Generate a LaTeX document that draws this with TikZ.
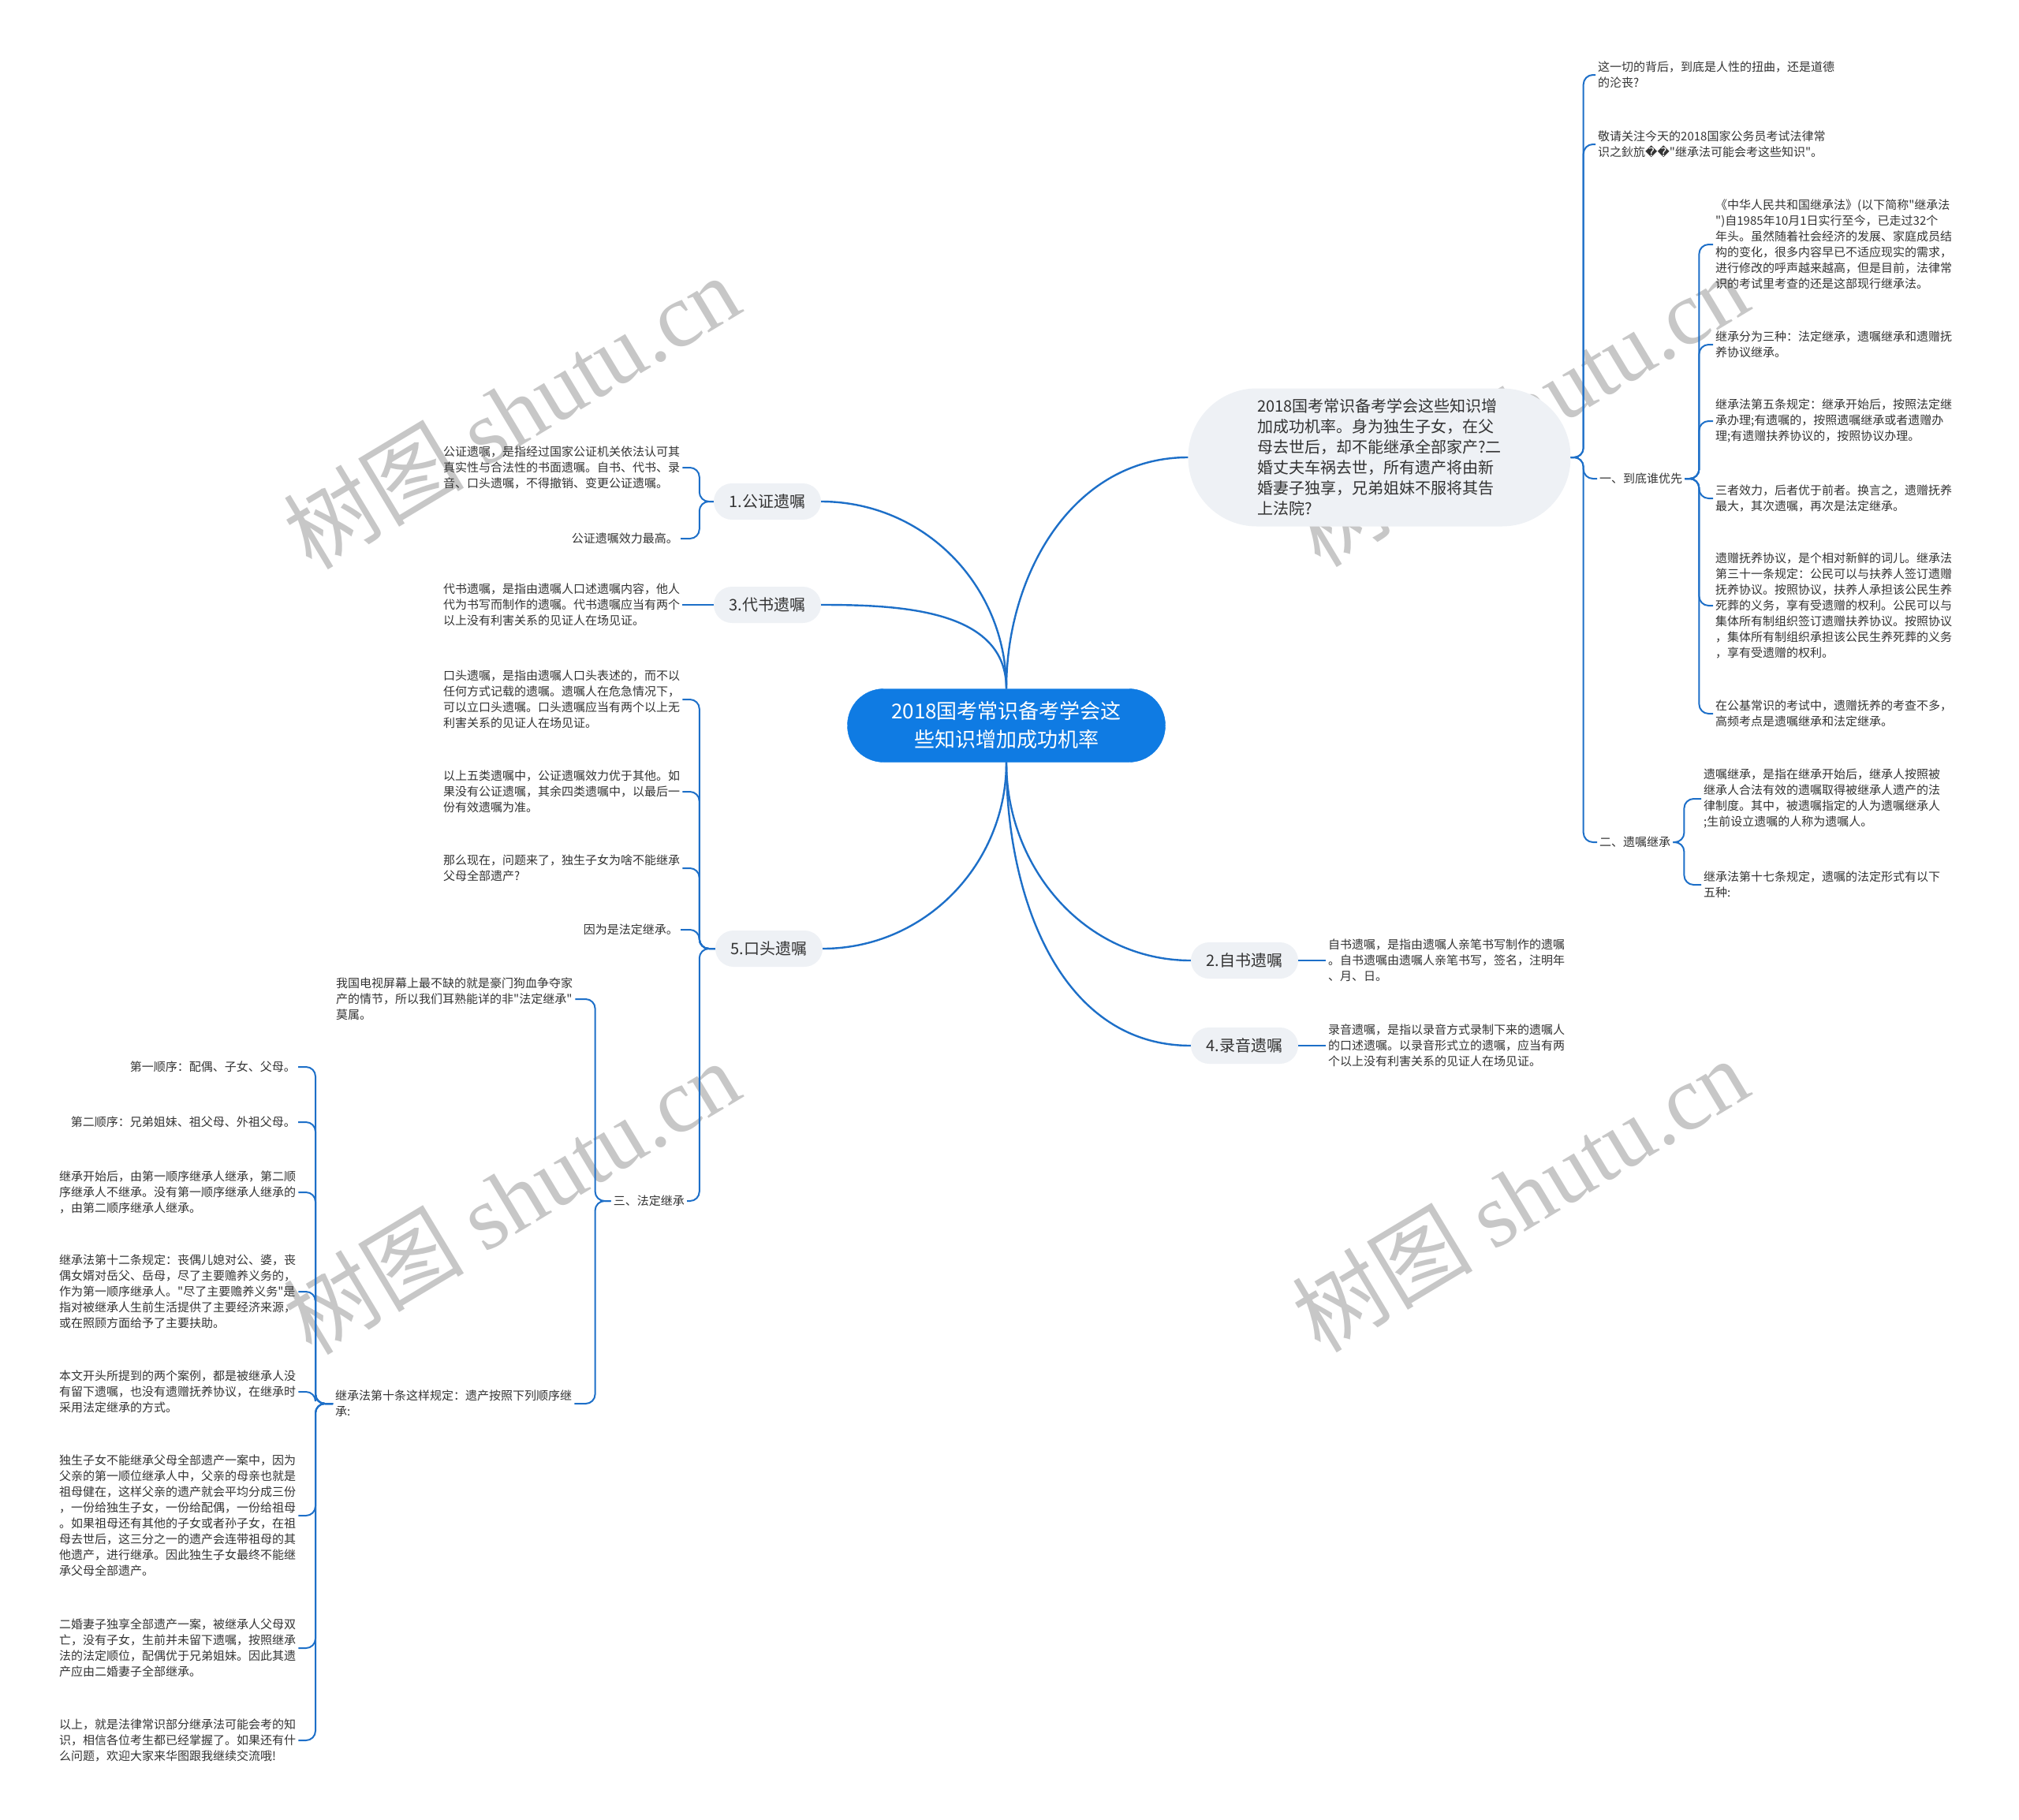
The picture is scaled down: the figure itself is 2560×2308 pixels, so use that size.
\documentclass[tikz,border=0pt]{standalone}
\usepackage{fontspec}
\setmainfont{Noto Sans CJK SC}[Ligatures=TeXOff]
\newfontfamily\markfont{Liberation Serif}
\newfontfamily\glyphfont{DejaVu Sans}
\usetikzlibrary{positioning}

\definecolor{linkblue}{HTML}{1D6FC8}
\definecolor{rootblue}{HTML}{0F7BE3}
\definecolor{bubble}{HTML}{EEF1F5}
\definecolor{ink}{HTML}{333333}

\begin{document}
\begin{tikzpicture}[
        x=1pt, y=1pt,
        root/.style={draw=rootblue, fill=rootblue, text=white, rounded corners=46pt, minimum width=403pt, minimum height=93pt, align=center, font=\fontsize{26}{36}\selectfont},
        topic/.style={fill=bubble, rounded corners=23pt, minimum width=136pt, minimum height=46pt, text=ink, font=\fontsize{20}{24}\selectfont},
        leaf/.style={text=ink, align=left, inner sep=3pt, font=\fontsize{15}{20}\selectfont},
        link/.style={draw=linkblue, line width=2.4pt},
        branch/.style={draw=linkblue, line width=2pt, rounded corners=12pt},
        watermark/.style={text=black!22, rotate=31, font=\fontsize{115}{115}\selectfont}
    ]
    \useasboundingbox (0,0) rectangle (2560,-2308);

    % watermarks
    \node[watermark] (MarkA) at (648,-522) {树图 {\markfont shutu.cn}};
    \node[watermark] (MarkB) at (1927,-519) {树图 {\markfont shutu.cn}};
    \node[watermark] (MarkC) at (648,-1518) {树图 {\markfont shutu.cn}};
    \node[watermark] (MarkD) at (1927,-1515) {树图 {\markfont shutu.cn}};

    \node[root] (Root) at (1276,-920) {2018国考常识备考学会这\\些知识增加成功机率};

    \node[topic, minimum width=485pt, minimum height=175pt, rounded corners=87pt, align=left, font=\fontsize{20}{26}\selectfont] (Story) at (1749,-580)
        {2018国考常识备考学会这些知识增\\加成功机率。身为独生子女，在父\\母去世后，却不能继承全部家产?二\\婚丈夫车祸去世，所有遗产将由新\\婚妻子独享，兄弟姐妹不服将其告\\上法院?};
    \node[topic] (Notary) at (973,-636) {1.公证遗嘱};
    \node[topic] (Proxy) at (973,-767) {3.代书遗嘱};
    \node[topic] (Oral) at (975,-1203) {5.口头遗嘱};
    \node[topic] (Holo) at (1578,-1218) {2.自书遗嘱};
    \node[topic] (Audio) at (1578,-1326) {4.录音遗嘱};

    % right side, story branch
    \node[leaf, anchor=west] (Doubt) at (2023,-95) {这一切的背后，到底是人性的扭曲，还是道德\\的沦丧?};
    \node[leaf, anchor=west] (Notice) at (2023,-183) {敬请关注今天的2018国家公务员考试法律常\\识之鈥斻{\glyphfont ��}"继承法可能会考这些知识"。};
    \node[leaf, anchor=west] (Priority) at (2025,-607) {一、到底谁优先};
    \node[leaf, anchor=west] (Will) at (2025,-1068) {二、遗嘱继承};

    \node[leaf, anchor=west] (PrioA) at (2172,-310) {《中华人民共和国继承法》(以下简称"继承法\\")自1985年10月1日实行至今，已走过32个\\年头。虽然随着社会经济的发展、家庭成员结\\构的变化，很多内容早已不适应现实的需求，\\进行修改的呼声越来越高，但是目前，法律常\\识的考试里考查的还是这部现行继承法。};
    \node[leaf, anchor=west] (PrioB) at (2172,-437) {继承分为三种：法定继承，遗嘱继承和遗赠抚\\养协议继承。};
    \node[leaf, anchor=west] (PrioC) at (2172,-534) {继承法第五条规定：继承开始后，按照法定继\\承办理;有遗嘱的，按照遗嘱继承或者遗赠办\\理;有遗赠扶养协议的，按照协议办理。};
    \node[leaf, anchor=west] (PrioD) at (2172,-632) {三者效力，后者优于前者。换言之，遗赠抚养\\最大，其次遗嘱，再次是法定继承。};
    \node[leaf, anchor=west] (PrioE) at (2172,-768) {遗赠抚养协议，是个相对新鲜的词儿。继承法\\第三十一条规定：公民可以与扶养人签订遗赠\\抚养协议。按照协议，扶养人承担该公民生养\\死葬的义务，享有受遗赠的权利。公民可以与\\集体所有制组织签订遗赠扶养协议。按照协议\\，集体所有制组织承担该公民生养死葬的义务\\，享有受遗赠的权利。};
    \node[leaf, anchor=west] (PrioF) at (2172,-905) {在公基常识的考试中，遗赠抚养的考查不多，\\高频考点是遗嘱继承和法定继承。};

    \node[leaf, anchor=west] (WillA) at (2157,-1013) {遗嘱继承，是指在继承开始后，继承人按照被\\继承人合法有效的遗嘱取得被继承人遗产的法\\律制度。其中，被遗嘱指定的人为遗嘱继承人\\;生前设立遗嘱的人称为遗嘱人。};
    \node[leaf, anchor=west] (WillB) at (2157,-1122) {继承法第十七条规定，遗嘱的法定形式有以下\\五种:};

    \node[leaf, anchor=west] (HoloA) at (1681,-1218) {自书遗嘱，是指由遗嘱人亲笔书写制作的遗嘱\\。自书遗嘱由遗嘱人亲笔书写，签名，注明年\\、月、日。};
    \node[leaf, anchor=west] (AudioA) at (1681,-1326) {录音遗嘱，是指以录音方式录制下来的遗嘱人\\的口述遗嘱。以录音形式立的遗嘱，应当有两\\个以上没有利害关系的见证人在场见证。};

    % left side
    \node[leaf, anchor=west] (NotaryA) at (559,-593) {公证遗嘱，是指经过国家公证机关依法认可其\\真实性与合法性的书面遗嘱。自书、代书、录\\音、口头遗嘱，不得撤销、变更公证遗嘱。};
    \node[leaf, anchor=east] (NotaryB) at (863,-683) {公证遗嘱效力最高。};
    \node[leaf, anchor=west] (ProxyA) at (559,-767) {代书遗嘱，是指由遗嘱人口述遗嘱内容，他人\\代为书写而制作的遗嘱。代书遗嘱应当有两个\\以上没有利害关系的见证人在场见证。};

    \node[leaf, anchor=west] (OralA) at (559,-887) {口头遗嘱，是指由遗嘱人口头表述的，而不以\\任何方式记载的遗嘱。遗嘱人在危急情况下，\\可以立口头遗嘱。口头遗嘱应当有两个以上无\\利害关系的见证人在场见证。};
    \node[leaf, anchor=west] (OralB) at (559,-1004) {以上五类遗嘱中，公证遗嘱效力优于其他。如\\果没有公证遗嘱，其余四类遗嘱中，以最后一\\份有效遗嘱为准。};
    \node[leaf, anchor=west] (OralC) at (559,-1101) {那么现在，问题来了，独生子女为啥不能继承\\父母全部遗产?};
    \node[leaf, anchor=east] (OralD) at (863,-1179) {因为是法定继承。};
    \node[leaf, anchor=east] (Legal) at (871,-1523) {三、法定继承};

    \node[leaf, anchor=west] (LegalA) at (423,-1267) {我国电视屏幕上最不缺的就是豪门狗血争夺家\\产的情节，所以我们耳熟能详的非"法定继承"\\莫属。};
    \node[leaf, anchor=west] (Order) at (422,-1780) {继承法第十条这样规定：遗产按照下列顺序继\\承:};

    \node[leaf, anchor=east] (OrderA) at (378,-1353) {第一顺序：配偶、子女、父母。};
    \node[leaf, anchor=east] (OrderB) at (378,-1423) {第二顺序：兄弟姐妹、祖父母、外祖父母。};
    \node[leaf, anchor=west] (OrderC) at (72,-1512) {继承开始后，由第一顺序继承人继承，第二顺\\序继承人不继承。没有第一顺序继承人继承的\\，由第二顺序继承人继承。};
    \node[leaf, anchor=west] (OrderD) at (72,-1638) {继承法第十二条规定：丧偶儿媳对公、婆，丧\\偶女婿对岳父、岳母，尽了主要赡养义务的，\\作为第一顺序继承人。"尽了主要赡养义务"是\\指对被继承人生前生活提供了主要经济来源，\\或在照顾方面给予了主要扶助。};
    \node[leaf, anchor=west] (OrderE) at (72,-1765) {本文开头所提到的两个案例，都是被继承人没\\有留下遗嘱，也没有遗赠抚养协议，在继承时\\采用法定继承的方式。};
    \node[leaf, anchor=west] (OrderF) at (72,-1922) {独生子女不能继承父母全部遗产一案中，因为\\父亲的第一顺位继承人中，父亲的母亲也就是\\祖母健在，这样父亲的遗产就会平均分成三份\\，一份给独生子女，一份给配偶，一份给祖母\\。如果祖母还有其他的子女或者孙子女，在祖\\母去世后，这三分之一的遗产会连带祖母的其\\他遗产，进行继承。因此独生子女最终不能继\\承父母全部遗产。};
    \node[leaf, anchor=west] (OrderG) at (72,-2090) {二婚妻子独享全部遗产一案，被继承人父母双\\亡，没有子女，生前并未留下遗嘱，按照继承\\法的法定顺位，配偶优于兄弟姐妹。因此其遗\\产应由二婚妻子全部继承。};
    \node[leaf, anchor=west] (OrderH) at (72,-2207) {以上，就是法律常识部分继承法可能会考的知\\识，相信各位考生都已经掌握了。如果还有什\\么问题，欢迎大家来华图跟我继续交流哦!};

    % main curves
    \draw[link] (Root.north) to[out=90, in=180] (Story.west);
    \draw[link] (Root.north) to[out=90, in=0] (Notary.east);
    \draw[link] (Root.north) to[out=90, in=0] (Proxy.east);
    \draw[link] (Root.south) to[out=-90, in=0] (Oral.east);
    \draw[link] (Root.south) to[out=-90, in=180] (Holo.west);
    \draw[link] (Root.south) to[out=-90, in=180] (Audio.west);

    % brackets
    \foreach \c in {Doubt, Notice, Priority, Will}
        \draw[branch] (Story.east) -- ++(16,0) |- (\c.west);
    \foreach \c in {PrioA, PrioB, PrioC, PrioD, PrioE, PrioF}
        \draw[branch] (Priority.east) -- ++(18,0) |- (\c.west);
    \foreach \c in {WillA, WillB}
        \draw[branch] (Will.east) -- ++(14,0) |- (\c.west);
    \draw[branch] (Holo.east) -- (HoloA.west);
    \draw[branch] (Audio.east) -- (AudioA.west);

    \foreach \c in {NotaryA, NotaryB}
        \draw[branch] (Notary.west) -- ++(-18,0) |- (\c.east);
    \draw[branch] (Proxy.west) -- (ProxyA.east);
    \foreach \c in {OralA, OralB, OralC, OralD, Legal}
        \draw[branch] (Oral.west) -- ++(-20,0) |- (\c.east);
    \foreach \c in {LegalA, Order}
        \draw[branch] (Legal.west) -- ++(-20,0) |- (\c.east);
    \foreach \c in {OrderA, OrderB, OrderC, OrderD, OrderE, OrderF, OrderG, OrderH}
        \draw[branch] (Order.west) -- ++(-22,0) |- (\c.east);

\end{tikzpicture}
\end{document}
